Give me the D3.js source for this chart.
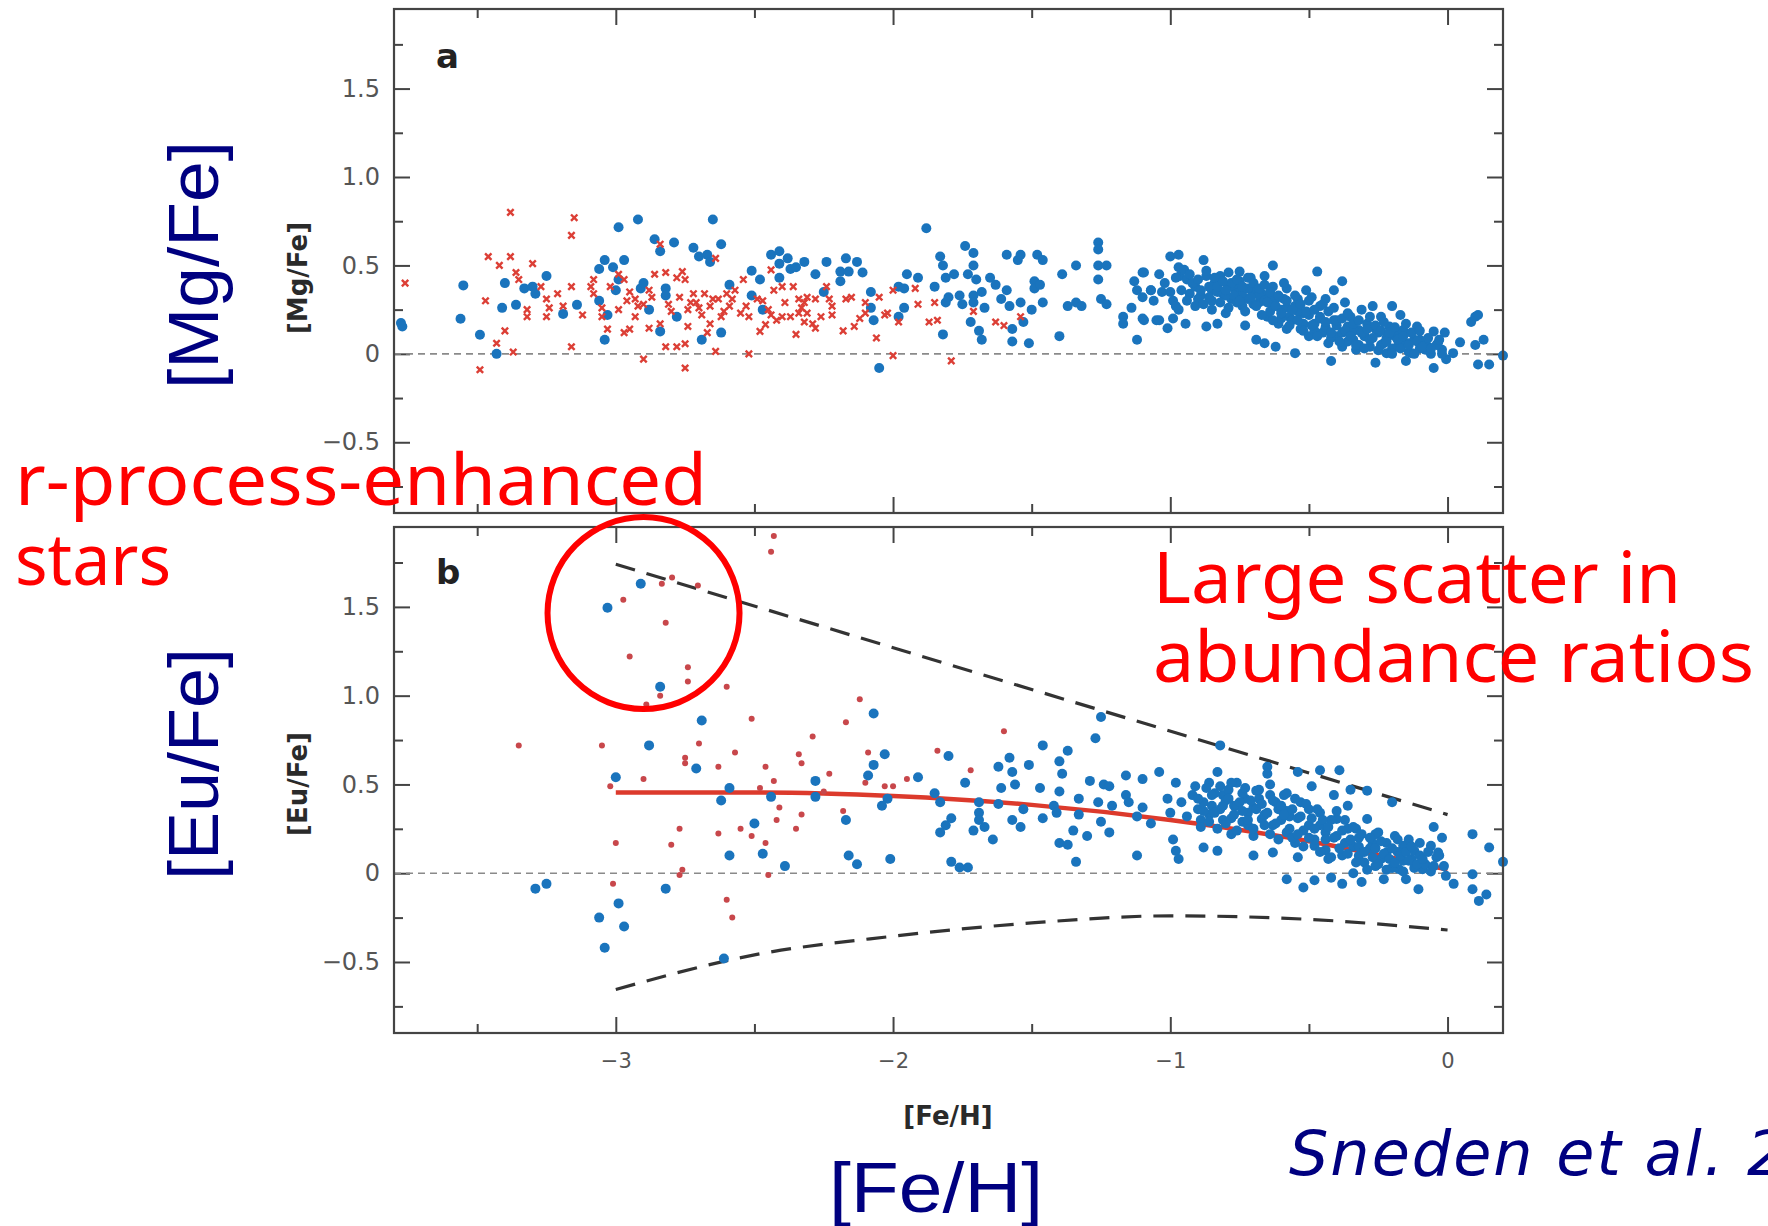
<!doctype html>
<html lang="en">
<head>
<meta charset="utf-8">
<title>[Mg/Fe] and [Eu/Fe] vs [Fe/H]</title>
<script src="https://d3js.org/d3.v7.min.js"></script>
<style>
  body { margin: 0; background: #fff; }
  svg { display: block; }
</style>
</head>
<body>
<div id="root"></div>
<script>

// ---- data ([Fe/H], ratio) ----
const xMajor = [-3, -2, -1, 0];
const xMinor = [-3.5, -2.5, -1.5, -0.5];
const yMajor = [-0.5, 0, 0.5, 1.0, 1.5];
const yMinor = [-0.75, -0.25, 0.25, 0.75, 1.25, 1.75];

// panel a, blue circles
const mgBlue = [
  [-3.775,0.174],[-3.77,0.155],[-3.55,0.387],[-3.56,0.198],[-3.49,0.108],[-3.43,0.0],[-3.40,0.40],[-3.41,0.26],
  [-3.36,0.277],[-3.33,0.37],[-3.30,0.38],[-3.29,0.34],[-3.25,0.44],[-3.19,0.226],[-3.14,0.277],[-3.06,0.48],
  [-3.04,0.53],[-3.01,0.49],[-2.97,0.53],[-2.99,0.716],[-2.92,0.76],[-2.86,0.648],[-2.84,0.58],[-2.79,0.63],
  [-2.72,0.60],[-2.70,0.55],[-2.67,0.56],[-2.66,0.52],[-2.65,0.76],[-2.62,0.62],[-2.59,0.39],[-2.51,0.47],
  [-2.48,0.42],[-2.51,0.33],[-2.47,0.25],[-2.44,0.56],[-2.41,0.58],[-2.41,0.51],[-2.38,0.54],[-2.37,0.48],
  [-2.35,0.49],[-2.32,0.52],[-2.41,0.43],[-3.06,0.30],[-3.03,0.22],[-3.04,0.08],[-3.0,0.36],[-2.99,0.42],
  [-2.91,0.37],[-2.90,0.40],[-2.88,0.25],[-2.84,0.127],[-2.82,0.37],[-2.82,0.33],[-2.78,0.21],[-2.69,0.08],
  [-2.62,0.12],
  [-2.28,0.45],[-2.24,0.52],[-2.25,0.35],[-2.17,0.54],[-2.19,0.465],[-2.16,0.465],[-2.19,0.41],[-2.13,0.52],
  [-2.11,0.46],[-2.08,0.35],[-2.08,0.26],[-2.07,0.19],[-2.05,-0.08],[-1.98,0.38],[-1.96,0.37],[-1.95,0.45],
  [-1.91,0.43],[-1.96,0.26],[-1.98,0.21],[-1.88,0.71],[-1.85,0.38],[-1.83,0.55],[-1.82,0.50],[-1.82,0.11],
  [-1.81,0.43],[-1.81,0.29],[-1.80,0.32],[-1.78,0.45],[-1.76,0.33],[-1.75,0.28],[-1.74,0.61],[-1.73,0.45],
  [-1.72,0.18],[-1.71,0.57],[-1.71,0.50],[-1.71,0.33],[-1.70,0.42],[-1.71,0.29],[-1.69,0.13],[-1.68,0.08],
  [-1.68,0.35],[-1.67,0.26],[-1.65,0.43],[-1.63,0.39],[-1.61,0.31],[-1.59,0.56],[-1.59,0.36],[-1.58,0.27],
  [-1.57,0.14],[-1.57,0.07],[-1.55,0.53],[-1.54,0.56],[-1.54,0.29],[-1.53,0.18],[-1.51,0.06],[-1.50,0.25],
  [-1.49,0.41],[-1.49,0.37],[-1.48,0.56],[-1.47,0.39],[-1.46,0.53],[-1.46,0.29],[-1.40,0.10],[-1.39,0.45],
  [-1.37,0.27],[-1.34,0.50],[-1.34,0.29],[-1.32,0.27],[-1.26,0.63],[-1.26,0.59],[-1.26,0.50],[-1.26,0.42],
  [-1.23,0.50],[-1.25,0.31],[-1.23,0.28],[-1.17,0.21],[-1.17,0.17],[-1.14,0.26],[-1.13,0.41],[-1.12,0.36],
  [-1.10,0.46],[-1.10,0.20],[-1.10,0.32],[-1.07,0.36],[-1.12,0.08],[-1.05,0.19],
  [-1.095,0.46],[-1.095,0.19],[-1.07,0.36],[-1.04,0.45],[-1.04,0.19],[-1.03,0.35],[-1.01,0.145],[-1.0,0.55],
  [-0.99,0.30],[-0.98,0.27],[-0.99,0.20],[-0.97,0.56],[-0.97,0.49],[-0.965,0.44],[-0.95,0.475],[-0.945,0.17],
  [-0.94,0.42],[-0.93,0.34],[-0.91,0.38],[-0.90,0.31],[-0.88,0.53],[-0.87,0.155],[-0.87,0.44],[-0.85,0.36],
  [-0.85,0.30],[-0.84,0.40],[-0.83,0.17],[-0.82,0.44],[-0.81,0.34],[-0.80,0.23],[-0.79,0.38],[-0.78,0.31],
  [-0.77,0.37],[-0.76,0.34],[-0.75,0.465],[-0.75,0.41],[-0.74,0.27],[-0.73,0.16],[-0.72,0.31],[-0.71,0.43],
  [-0.70,0.36],[-0.69,0.08],[-0.68,0.29],[-0.67,0.34],[-0.66,0.44],[-0.66,0.06],[-0.65,0.21],[-0.64,0.32],
  [-0.63,0.50],[-0.63,0.28],[-0.63,0.38],[-0.62,0.04],[-0.61,0.17],[-0.60,0.25],[-0.59,0.31],[-0.58,0.37],
  [-0.58,0.14],[-0.57,0.21],[-0.55,0.27],[-0.55,0.004],[-0.54,0.31],[-0.53,0.14],[-0.52,0.23],[-0.51,0.36],
  [-0.50,0.10],[-0.49,0.32],[-0.48,0.17],[-0.47,0.465],[-0.46,0.27],[-0.45,0.12],[-0.44,0.31],[-0.43,0.06],
  [-0.42,-0.04],[-0.41,0.19],[-0.41,0.36],[-0.40,0.10],[-0.38,0.04],[-0.38,0.41],[-0.37,0.29],[-0.36,0.155],
  [-0.35,0.21],[-0.34,0.08],[-0.33,0.023],[-0.32,0.135],[-0.31,0.25],[-0.30,0.10],[-0.29,0.17],[-0.28,0.04],
  [-0.27,0.27],[-0.26,-0.05],[-0.25,0.12],[-0.24,0.21],[-0.23,0.06],[-0.22,0.004],[-0.21,0.155],[-0.20,0.27],
  [-0.19,0.10],[-0.18,0.04],[-0.17,0.22],[-0.16,0.135],[-0.15,-0.04],[-0.14,0.06],[-0.13,0.004],[-0.11,0.155],
  [-0.10,0.08],[-0.08,0.023],[-0.07,0.04],[-0.05,0.127],[-0.05,-0.08],[-0.035,0.06],[-0.02,0.023],[-0.01,0.12],
  [-0.005,-0.03],[0.02,0.004],[0.045,0.065],[0.085,0.18],[0.10,0.21],[0.11,0.22],[0.10,0.05],[0.13,0.08],
  [0.11,-0.06],[0.15,-0.06],[0.20,-0.01],
  [-0.92,0.40],[-0.89,0.33],[-0.86,0.38],[-0.83,0.35],[-0.80,0.33],[-0.78,0.40],[-0.76,0.29],[-0.74,0.33],
  [-0.72,0.37],[-0.70,0.28],[-0.68,0.33],[-0.66,0.30],[-0.64,0.24],[-0.62,0.31],[-0.60,0.20],[-0.58,0.26],
  [-0.56,0.19],[-0.54,0.24],[-0.52,0.17],[-0.50,0.22],[-0.48,0.13],[-0.46,0.20],[-0.44,0.15],[-0.42,0.09],
  [-0.40,0.16],[-0.38,0.12],[-0.36,0.07],[-0.34,0.13],[-0.32,0.05],[-0.30,0.12],[-0.28,0.08],[-0.26,0.14],
  [-0.24,0.05],[-0.22,0.09],[-0.20,0.03],[-0.18,0.11],[-0.16,0.06],[-0.14,0.01],[-0.12,0.08],[-0.10,0.03],
  [-0.08,0.07],[-0.06,0.0],[-0.04,0.05],
  [-0.96,0.36],[-0.94,0.30],[-0.93,0.45],[-0.91,0.27],[-0.90,0.42],[-0.89,0.36],[-0.88,0.28],[-0.87,0.47],
  [-0.86,0.32],[-0.85,0.25],[-0.84,0.43],[-0.83,0.38],[-0.82,0.29],[-0.81,0.41],[-0.80,0.36],[-0.79,0.26],
  [-0.79,0.46],[-0.77,0.33],[-0.76,0.42],[-0.75,0.30],[-0.74,0.38],[-0.73,0.24],[-0.72,0.43],[-0.71,0.32],
  [-0.70,0.40],[-0.69,0.27],[-0.68,0.37],[-0.67,0.22],[-0.66,0.39],[-0.65,0.29],[-0.64,0.35],[-0.63,0.19],
  [-0.62,0.27],[-0.61,0.33],[-0.60,0.23],[-0.59,0.40],[-0.58,0.30],[-0.57,0.16],[-0.56,0.25],[-0.55,0.33],
  [-0.54,0.19],[-0.53,0.28],[-0.52,0.13],[-0.51,0.24],[-0.50,0.30],[-0.49,0.16],[-0.48,0.25],[-0.47,0.10],
  [-0.46,0.21],[-0.45,0.28],[-0.44,0.18],[-0.43,0.24],[-0.42,0.12],[-0.41,0.26],[-0.40,0.19],[-0.39,0.07],
  [-0.38,0.20],[-0.37,0.13],[-0.36,0.23],[-0.35,0.10],[-0.34,0.17],[-0.33,0.05],[-0.32,0.19],[-0.31,0.12],
  [-0.30,0.03],[-0.29,0.14],[-0.28,0.21],[-0.27,0.09],[-0.26,0.16],[-0.25,0.02],[-0.24,0.13],[-0.23,0.18],
  [-0.22,0.07],[-0.21,0.12],[-0.20,0.00],[-0.19,0.15],[-0.18,0.08],[-0.17,0.03],[-0.16,0.10],[-0.15,0.17],
  [-0.14,0.05],[-0.13,0.12],[-0.12,0.00],[-0.11,0.07],[-0.10,0.13],[-0.09,0.04],[-0.07,0.09],[-0.06,0.03],
  [-0.03,0.08],[-0.02,0.0],[-1.06,0.30],[-1.02,0.40],[-1.00,0.35],[-0.98,0.43],[-0.97,0.25]
];

// panel a, red crosses
const mgRed = [
  [-3.76,0.40],[-3.38,0.80],[-3.15,0.77],[-3.16,0.67],[-3.46,0.55],[-3.38,0.55],[-3.42,0.50],[-3.36,0.46],
  [-3.35,0.42],[-3.30,0.51],[-3.47,0.30],[-3.40,0.13],[-3.43,0.06],[-3.37,0.01],[-3.49,-0.09],[-3.32,0.25],
  [-3.32,0.21],[-3.27,0.38],[-3.25,0.31],[-3.24,0.26],[-3.25,0.21],[-3.21,0.34],[-3.19,0.27],[-3.16,0.38],
  [-3.16,0.04],[-3.12,0.22],[-3.09,0.38],[-3.08,0.42],[-3.08,0.34],[-3.05,0.26],[-3.05,0.21],[-3.03,0.14],
  [-3.02,0.38],[-2.99,0.45],[-2.97,0.42],[-2.99,0.25],[-2.97,0.12],[-2.95,0.14],[-2.95,0.35],[-2.93,0.31],
  [-2.93,0.21],[-2.90,0.28],[-2.90,-0.03],[-2.88,0.36],[-2.88,0.145],[-2.86,0.45],[-2.84,0.62],[-2.84,0.17],
  [-2.82,0.46],[-2.82,0.04],[-2.81,0.28],[-2.78,0.43],[-2.78,0.04],[-2.77,0.32],[-2.76,0.465],[-2.75,0.42],
  [-2.75,-0.08],[-2.75,0.057],[-2.74,0.25],[-2.74,0.155],[-2.72,0.34],[-2.71,0.29],[-2.69,0.22],[-2.68,0.34],
  [-2.67,0.12],[-2.66,0.27],[-2.66,0.17],[-2.64,0.54],[-2.64,0.014],[-2.63,0.31],[-2.62,0.21],[-2.60,0.34],
  [-2.59,0.27],[-2.58,0.31],[-2.55,0.23],[-2.54,0.42],[-2.52,0.0],[-2.52,0.21],[-2.49,0.31],[-2.48,0.127],
  [-2.46,0.165],[-2.44,0.475],[-2.44,0.22],[-2.43,0.36],[-2.42,0.19],[-2.40,0.38],[-2.40,0.21],[-2.37,0.21],
  [-2.36,0.38],[-2.35,0.11],[-2.34,0.31],[-2.34,0.23],[-2.32,0.18],[-2.31,0.32],
  [-2.32,0.29],[-2.31,0.23],[-2.29,0.17],[-2.28,0.31],[-2.28,0.145],[-2.26,0.21],[-2.24,0.38],[-2.23,0.31],
  [-2.22,0.27],[-2.22,0.22],[-2.18,0.13],[-2.17,0.31],[-2.15,0.32],[-2.14,0.155],[-2.12,0.20],[-2.10,0.29],
  [-2.10,0.23],[-2.06,0.09],[-2.05,0.32],[-2.03,0.22],[-2.02,0.23],[-2.0,-0.01],[-2.0,0.36],[-1.98,0.18],
  [-1.92,0.37],[-1.91,0.28],[-1.87,0.18],[-1.85,0.29],[-1.84,0.19],[-1.79,-0.04],[-1.71,0.24],[-1.63,0.18],
  [-1.60,0.16],[-1.54,0.21],
  [-2.96,0.30],[-2.92,0.27],[-2.87,0.32],[-2.80,0.24],[-2.73,0.29],[-2.70,0.26],[-2.65,0.31],[-2.61,0.24],
  [-2.57,0.36],[-2.53,0.27],[-2.47,0.30],[-2.45,0.25],[-2.39,0.29],[-2.33,0.26]
];

// panel b, blue circles
const euBlue = [
  [-3.03,1.495],[-2.91,1.63],[-2.84,1.05],[-2.69,0.86],[-2.88,0.72],[-3.0,0.54],[-2.71,0.59],[-2.59,0.48],
  [-2.62,0.41],[-2.44,0.43],[-2.50,0.28],[-2.59,0.10],[-2.47,0.11],[-2.39,0.04],[-2.28,0.52],[-2.28,0.43],
  [-2.17,0.30],[-2.16,0.10],[-2.13,0.05],[-2.07,0.90],[-2.03,0.67],[-2.07,0.61],[-2.09,0.55],[-2.02,0.42],
  [-2.04,0.38],[-2.01,0.08],[-3.29,-0.087],[-3.25,-0.06],[-2.82,-0.087],[-2.99,-0.17],[-3.06,-0.25],
  [-2.97,-0.30],[-3.04,-0.42],[-2.61,-0.48],
  [-1.91,0.54],[-1.80,0.66],[-1.74,0.51],[-1.85,0.45],[-1.83,0.40],[-1.79,0.31],[-1.81,0.27],[-1.83,0.23],
  [-1.79,0.064],[-1.76,0.032],[-1.73,0.032],[-1.69,0.40],[-1.69,0.34],[-1.69,0.30],[-1.71,0.24],[-1.67,0.26],
  [-1.64,0.19],[-1.62,0.60],[-1.61,0.48],[-1.58,0.65],[-1.57,0.57],[-1.56,0.50],[-1.62,0.39],[-1.57,0.30],
  [-1.54,0.26],[-1.53,0.36],[-1.51,0.61],[-1.47,0.48],[-1.46,0.72],[-1.46,0.31],[-1.42,0.38],[-1.41,0.34],
  [-1.40,0.63],[-1.39,0.56],[-1.40,0.46],[-1.37,0.69],[-1.40,0.17],[-1.37,0.16],[-1.35,0.24],[-1.34,0.064],
  [-1.33,0.42],[-1.33,0.33],[-1.30,0.21],[-1.29,0.52],[-1.27,0.76],[-1.26,0.40],[-1.25,0.88],[-1.25,0.29],
  [-1.24,0.50],[-1.22,0.23],[-1.22,0.49],[-1.21,0.38],[-1.16,0.55],[-1.16,0.44],[-1.15,0.40],[-1.12,0.32],
  [-1.12,0.10],[-1.10,0.53],[-1.10,0.37],[-1.07,0.28],[-1.04,0.57],[-1.01,0.42],[-1.00,0.34],[-0.99,0.19],
  [-0.98,0.126],[-0.97,0.08],[-0.98,0.51],[-0.96,0.40],[-0.94,0.32],[-0.92,0.44],[-0.91,0.49],[-0.90,0.36],
  [-0.89,0.30],[-0.88,0.145],[-0.86,0.51],[-0.85,0.38],[-0.83,0.57],[-0.83,0.126],[-0.82,0.72],[-0.81,0.44],
  [-0.81,0.30],[-0.79,0.47],[-0.78,0.22],[-0.77,0.38],[-0.76,0.51],[-0.74,0.29],[-0.73,0.42],[-0.72,0.34],
  [-0.70,0.21],[-0.70,0.10],[-0.69,0.465],[-0.67,0.305],[-0.65,0.60],[-0.65,0.56],[-0.64,0.44],[-0.63,0.117],
  [-0.63,0.27],[-0.61,0.36],[-0.59,0.44],[-0.58,0.23],[-0.58,-0.034],[-0.57,0.32],[-0.55,0.17],[-0.54,0.57],
  [-0.54,0.09],[-0.53,0.40],[-0.52,-0.08],[-0.50,0.27],[-0.49,0.49],[-0.48,-0.04],[-0.48,0.154],[-0.46,0.58],
  [-0.46,0.34],[-0.44,0.23],[-0.43,0.08],[-0.42,-0.025],[-0.41,0.44],[-0.40,0.305],[-0.39,0.58],[-0.38,-0.06],
  [-0.37,0.17],[-0.36,0.38],[-0.35,0.47],[-0.34,0.0],[-0.33,0.25],[-0.32,0.098],[-0.31,-0.05],[-0.29,0.465],
  [-0.29,0.305],[-0.27,0.17],[-0.26,0.04],[-0.25,0.23],[-0.23,-0.034],[-0.22,0.117],[-0.20,0.40],[-0.19,0.21],
  [-0.175,0.022],[-0.16,0.154],[-0.15,-0.034],[-0.13,0.08],[-0.12,0.126],[-0.105,-0.09],[-0.09,0.022],
  [-0.06,0.154],[-0.05,0.26],[-0.034,0.117],[-0.013,0.04],[-0.006,-0.015],[0.022,-0.06],[0.09,0.22],
  [0.09,-0.006],[0.09,-0.09],[0.113,-0.156],[0.14,-0.12],[0.15,0.145],[0.20,0.064],
  [-0.88,0.40],[-0.86,0.33],[-0.84,0.45],[-0.82,0.36],[-0.80,0.41],[-0.78,0.31],[-0.76,0.38],[-0.74,0.45],
  [-0.72,0.27],[-0.70,0.37],[-0.68,0.42],[-0.66,0.33],[-0.64,0.22],[-0.62,0.40],[-0.60,0.30],[-0.58,0.35],
  [-0.56,0.20],[-0.54,0.31],[-0.52,0.24],[-0.50,0.36],[-0.48,0.19],[-0.46,0.27],[-0.44,0.13],[-0.42,0.30],
  [-0.40,0.21],[-0.38,0.10],[-0.36,0.25],[-0.34,0.15],[-0.32,0.20],[-0.30,0.06],[-0.28,0.14],[-0.26,0.22],
  [-0.24,0.08],[-0.22,0.17],[-0.20,0.03],[-0.18,0.12],[-0.16,0.07],[-0.14,0.19],[-0.12,0.03],[-0.10,0.10],
  [-0.08,0.05],[-0.06,0.01],[-0.04,0.09],
  [-0.90,0.42],[-0.89,0.26],[-0.88,0.35],[-0.87,0.48],[-0.86,0.29],[-0.85,0.44],[-0.84,0.34],[-0.83,0.25],
  [-0.82,0.49],[-0.81,0.38],[-0.80,0.28],[-0.79,0.42],[-0.78,0.51],[-0.77,0.33],[-0.76,0.24],[-0.75,0.40],
  [-0.74,0.35],[-0.73,0.48],[-0.72,0.30],[-0.71,0.41],[-0.70,0.25],[-0.69,0.36],[-0.68,0.47],[-0.67,0.39],
  [-0.66,0.27],[-0.65,0.34],[-0.64,0.50],[-0.63,0.41],[-0.62,0.28],[-0.61,0.19],[-0.60,0.38],[-0.59,0.33],
  [-0.58,0.45],[-0.57,0.25],[-0.56,0.36],[-0.55,0.42],[-0.54,0.22],[-0.53,0.32],[-0.52,0.15],[-0.51,0.39],
  [-0.50,0.20],[-0.49,0.31],[-0.48,0.25],[-0.47,0.36],[-0.46,0.12],[-0.45,0.30],[-0.44,0.19],[-0.43,0.26],
  [-0.42,0.09],[-0.41,0.20],[-0.40,0.35],[-0.39,0.14],[-0.38,0.24],[-0.37,0.30],[-0.36,0.11],[-0.35,0.19],
  [-0.34,0.26],[-0.33,0.06],[-0.32,0.15],[-0.31,0.22],[-0.30,0.12],[-0.29,0.02],[-0.28,0.20],[-0.27,0.09],
  [-0.26,0.14],[-0.25,0.05],[-0.24,0.18],[-0.23,0.11],[-0.22,0.02],[-0.21,0.08],[-0.20,0.14],[-0.19,0.06],
  [-0.18,0.19],[-0.17,0.10],[-0.16,0.01],[-0.15,0.12],[-0.14,0.07],[-0.13,0.15],[-0.11,0.05],[-0.10,0.17],
  [-0.09,0.08],[-0.07,0.12],[-0.05,0.04],[-0.03,0.10],[-0.02,0.20]
];

// panel b, small red dots
const euRed = [
  [-2.973,1.54],[-2.834,1.63],[-2.797,1.665],[-2.704,1.62],[-2.82,1.41],[-2.95,1.22],[-2.74,1.16],[-2.74,1.08],
  [-2.84,1.0],[-2.89,0.95],[-2.60,1.05],[-2.51,0.87],[-2.43,1.90],[-2.44,1.81],
  [-3.35,0.72],[-3.05,0.72],[-3.02,0.49],[-3.0,0.17],[-3.01,-0.06],[-2.90,0.53],[-2.70,0.73],[-2.75,0.65],
  [-2.75,0.62],[-2.63,0.60],[-2.57,0.68],[-2.46,0.60],[-2.43,0.52],[-2.48,0.48],[-2.41,0.37],[-2.42,0.30],
  [-2.33,0.33],[-2.35,0.25],[-2.33,0.62],[-2.34,0.67],[-2.29,0.77],[-2.23,0.56],[-2.25,0.46],[-2.18,0.35],
  [-2.17,0.85],[-2.12,0.98],[-2.09,0.68],[-2.10,0.51],[-2.03,0.49],[-2.0,0.49],[-1.95,0.53],[-2.77,0.25],
  [-2.80,0.16],[-2.76,0.02],[-2.77,-0.01],[-2.63,0.224],[-2.55,0.25],[-2.51,0.21],[-2.46,0.17],[-2.45,-0.01],
  [-2.60,-0.15],[-2.58,-0.25],[-1.84,0.69],[-1.72,0.58],[-1.60,0.80]
];

// lines in panel b
const euTrend = [[-3,0.455],[-2.5,0.455],[-2,0.435],[-1.5,0.385],[-1,0.30],[-0.5,0.18],[0,0.02]];
const euUpper = [[-3,1.74],[0,0.33]];
const euLower = [[-3,-0.655],[-2.5,-0.46],[-2,-0.355],[-1.5,-0.28],[-1,-0.24],[-0.5,-0.26],[0,-0.32]];

// ---- svg ----
const width = 1768;
const height = 1226;

const svg = d3.select("#root")
  .append("svg")
  .attr("width", width)
  .attr("height", height);

const x = d3.scaleLinear().domain([-3.8, 0.2]).range([394, 1503]);
const yA = d3.scaleLinear().domain([-0.9, 1.95]).range([513, 9]);
const yB = d3.scaleLinear().domain([-0.9, 1.95]).range([1033, 527]);

const frameColor = "#444";
const blue = "#1a74bd";
const fmtY = d => d === 0 ? "0" : d3.format(".1f")(d);

function styleAxis(g) {
  g.select(".domain").remove();
  g.selectAll("line").attr("stroke", frameColor).attr("stroke-width", 2);
  return g;
}

function drawFrame(y, showXLabels) {
  const top = y.range()[1], bottom = y.range()[0];
  const left = x.range()[0], right = x.range()[1];

  // left ticks + labels
  svg.append("g").attr("transform", `translate(${left},0)`)
    .call(d3.axisLeft(y).tickValues(yMajor).tickSizeInner(-16).tickSizeOuter(0).tickPadding(14).tickFormat(fmtY))
    .call(styleAxis)
    .selectAll("text")
      .attr("font-family", "DejaVu Sans").attr("font-size", 24).attr("fill", "#555");
  svg.append("g").attr("transform", `translate(${left},0)`)
    .call(d3.axisLeft(y).tickValues(yMinor).tickSizeInner(-9).tickSizeOuter(0).tickFormat(""))
    .call(styleAxis);

  // right ticks
  [[yMajor, -16], [yMinor, -9]].forEach(([v, s]) => {
    svg.append("g").attr("transform", `translate(${right},0)`)
      .call(d3.axisRight(y).tickValues(v).tickSizeInner(s).tickSizeOuter(0).tickFormat(""))
      .call(styleAxis);
  });

  // top ticks
  [[xMajor, -16], [xMinor, -9]].forEach(([v, s]) => {
    svg.append("g").attr("transform", `translate(0,${top})`)
      .call(d3.axisTop(x).tickValues(v).tickSizeInner(s).tickSizeOuter(0).tickFormat(""))
      .call(styleAxis);
  });

  // bottom ticks
  svg.append("g").attr("transform", `translate(0,${bottom})`)
    .call(d3.axisBottom(x).tickValues(xMajor).tickSizeInner(-16).tickSizeOuter(0).tickPadding(20)
      .tickFormat(showXLabels ? d3.format("d") : ""))
    .call(styleAxis)
    .selectAll("text")
      .attr("font-family", "DejaVu Sans").attr("font-size", 21).attr("fill", "#555");
  svg.append("g").attr("transform", `translate(0,${bottom})`)
    .call(d3.axisBottom(x).tickValues(xMinor).tickSizeInner(-9).tickSizeOuter(0).tickFormat(""))
    .call(styleAxis);

  // zero line
  svg.append("line")
    .attr("x1", left).attr("x2", right)
    .attr("y1", y(0)).attr("y2", y(0))
    .attr("stroke", "#8a8a8a").attr("stroke-width", 1.6).attr("stroke-dasharray", "7,5");
}

function drawBox(y) {
  const top = y.range()[1], bottom = y.range()[0];
  svg.append("rect")
    .attr("x", x.range()[0]).attr("y", top)
    .attr("width", x.range()[1] - x.range()[0]).attr("height", bottom - top)
    .attr("fill", "none").attr("stroke", frameColor).attr("stroke-width", 2.2);
}

drawFrame(yA, false);
drawFrame(yB, true);

// panel letters
svg.append("text").attr("x", 436).attr("y", yA.range()[1] + 59).text("a")
  .attr("font-family", "DejaVu Sans").attr("font-weight", "bold").attr("font-size", 34).attr("fill", "#222");
svg.append("text").attr("x", 436).attr("y", yB.range()[1] + 57).text("b")
  .attr("font-family", "DejaVu Sans").attr("font-weight", "bold").attr("font-size", 34).attr("fill", "#222");

// ---- panel a ----
svg.append("g").selectAll("circle")
  .data(mgBlue)
  .enter()
  .append("circle")
  .attr("cx", d => x(d[0]))
  .attr("cy", d => yA(d[1]))
  .attr("r", 5)
  .attr("fill", blue);

svg.append("g").selectAll("path")
  .data(mgRed)
  .enter()
  .append("path")
  .attr("transform", d => `translate(${x(d[0])},${yA(d[1])})`)
  .attr("d", "M-3.2,-3.2L3.2,3.2M-3.2,3.2L3.2,-3.2")
  .attr("stroke", "#dc3f36")
  .attr("stroke-width", 2.4)
  .attr("fill", "none");

// ---- panel b ----
const line = d3.line().x(d => x(d[0])).y(d => yB(d[1]));

svg.append("path").datum(euUpper).attr("d", line)
  .attr("fill", "none").attr("stroke", "#333").attr("stroke-width", 3.2).attr("stroke-dasharray", "20,12");
svg.append("path").datum(euLower).attr("d", line.curve(d3.curveMonotoneX))
  .attr("fill", "none").attr("stroke", "#333").attr("stroke-width", 3.2).attr("stroke-dasharray", "20,12");
svg.append("path").datum(euTrend).attr("d", line.curve(d3.curveMonotoneX))
  .attr("fill", "none").attr("stroke", "#dc3a2c").attr("stroke-width", 4.4);

svg.append("g").selectAll("circle")
  .data(euRed)
  .enter()
  .append("circle")
  .attr("cx", d => x(d[0]))
  .attr("cy", d => yB(d[1]))
  .attr("r", 3)
  .attr("fill", "#c8474b");

svg.append("g").selectAll("circle")
  .data(euBlue)
  .enter()
  .append("circle")
  .attr("cx", d => x(d[0]))
  .attr("cy", d => yB(d[1]))
  .attr("r", 5)
  .attr("fill", blue);

drawBox(yA);
drawBox(yB);

// ---- axis titles ----
svg.append("text")
  .attr("transform", "translate(307,278) rotate(-90)")
  .attr("text-anchor", "middle")
  .attr("font-family", "DejaVu Sans").attr("font-weight", "bold").attr("font-size", 26).attr("fill", "#2a2a2a")
  .text("[Mg/Fe]");
svg.append("text")
  .attr("transform", "translate(307,784) rotate(-90)")
  .attr("text-anchor", "middle")
  .attr("font-family", "DejaVu Sans").attr("font-weight", "bold").attr("font-size", 26).attr("fill", "#2a2a2a")
  .text("[Eu/Fe]");
svg.append("text")
  .attr("x", 948).attr("y", 1125)
  .attr("text-anchor", "middle")
  .attr("font-family", "DejaVu Sans").attr("font-weight", "bold").attr("font-size", 26).attr("fill", "#2a2a2a")
  .text("[Fe/H]");

// ---- big slide labels ----
const navy = "#000080";
svg.append("text")
  .attr("transform", "translate(218,265) rotate(-90)")
  .attr("text-anchor", "middle")
  .attr("font-family", "Liberation Sans").attr("font-size", 70).attr("fill", navy)
  .attr("textLength", 248).attr("lengthAdjust", "spacingAndGlyphs")
  .text("[Mg/Fe]");
svg.append("text")
  .attr("transform", "translate(218,764) rotate(-90)")
  .attr("text-anchor", "middle")
  .attr("font-family", "Liberation Sans").attr("font-size", 70).attr("fill", navy)
  .attr("textLength", 232).attr("lengthAdjust", "spacingAndGlyphs")
  .text("[Eu/Fe]");
svg.append("text")
  .attr("x", 936).attr("y", 1212)
  .attr("text-anchor", "middle")
  .attr("font-family", "Liberation Sans").attr("font-size", 70).attr("fill", navy)
  .attr("textLength", 214).attr("lengthAdjust", "spacingAndGlyphs")
  .text("[Fe/H]");
svg.append("text")
  .attr("x", 1289).attr("y", 1175)
  .attr("font-family", "DejaVu Sans").attr("font-style", "oblique").attr("font-size", 62)
  .attr("letter-spacing", 2).attr("fill", navy)
  .text("Sneden et al. 2008");

// ---- red annotations ----
const annoRed = "#ff0000";
svg.append("circle")
  .attr("cx", x(-2.9)).attr("cy", yB(1.465)).attr("r", 96)
  .attr("fill", "none").attr("stroke", annoRed).attr("stroke-width", 6);

[
  ["r-process-enhanced", 15, 505, 692],
  ["stars", 15, 585, 156],
  ["Large scatter in", 1153, 603, 528],
  ["abundance ratios", 1153, 682, 601]
].forEach(([t, tx, ty, len]) => {
  svg.append("text")
    .attr("x", tx).attr("y", ty)
    .attr("font-family", "Noto Sans").attr("font-size", 72).attr("fill", annoRed)
    .attr("textLength", len).attr("lengthAdjust", "spacingAndGlyphs")
    .text(t);
});

</script>
</body>
</html>
